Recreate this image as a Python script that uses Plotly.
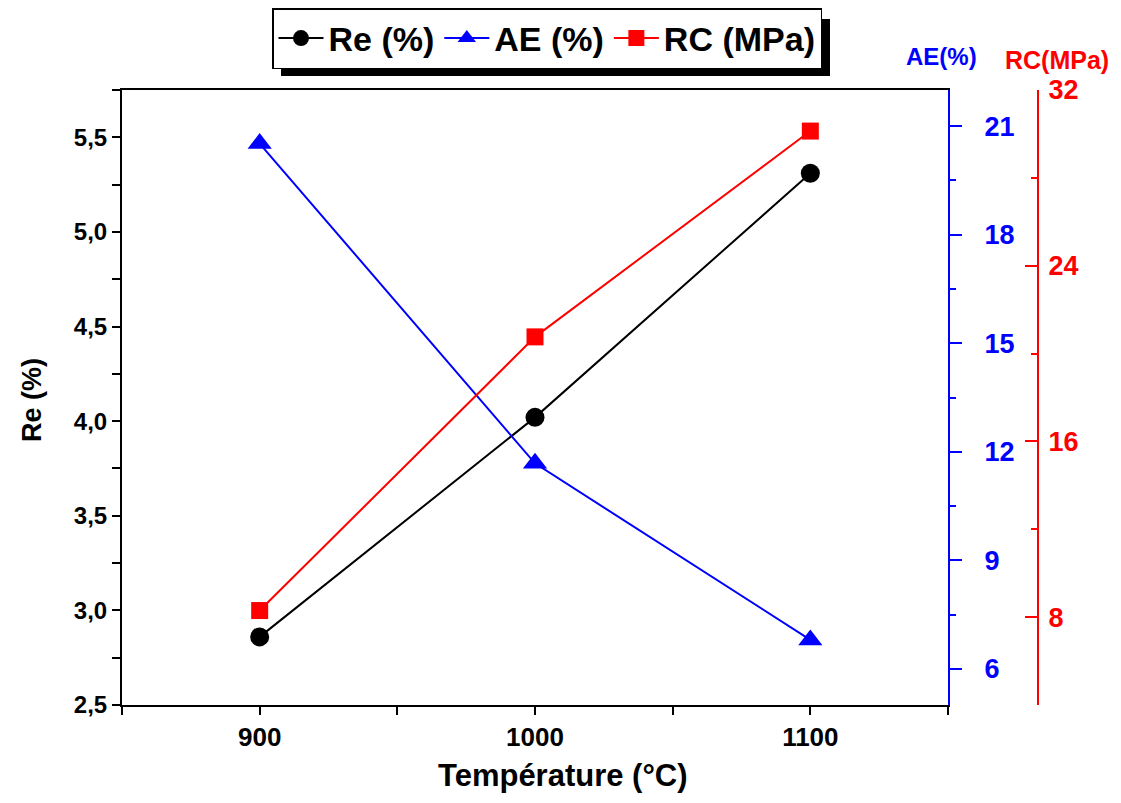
import plotly.graph_objects as go

temperature = [900, 1000, 1100]
re_pct = [2.86, 4.02, 5.31]
ae_pct = [20.52, 11.68, 6.8]
rc_mpa = [8.3, 20.76, 30.13]

x_ticks = [900, 1000, 1100]
re_ticks = [2.5, 3.0, 3.5, 4.0, 4.5, 5.0, 5.5]
ae_ticks = [6, 9, 12, 15, 18, 21]
rc_ticks = [8, 16, 24, 32]

OFF = 8  # page body margin
W, H = 1121 - OFF, 803 - OFF
L, R, T, B = 122, 1038, 90, 705  # page coordinates of plot area
pw, ph = R - L, B - T
def px(x): return (x - L) / pw
def py(y): return (B - y) / ph

bold = "Liberation Sans"

fig = go.Figure()
fig.add_trace(go.Scatter(x=temperature, y=re_pct, name="Re (%)", mode="lines+markers",
                         line=dict(color="black", width=2),
                         marker=dict(symbol="circle", size=19, color="black"),
                         yaxis="y"))
fig.add_trace(go.Scatter(x=temperature, y=ae_pct, name="AE (%)", mode="lines+markers",
                         line=dict(color="blue", width=2),
                         marker=dict(symbol="triangle-up", size=21, color="blue"),
                         yaxis="y2"))
fig.add_trace(go.Scatter(x=temperature, y=rc_mpa, name="RC (MPa)", mode="lines+markers",
                         line=dict(color="red", width=2),
                         marker=dict(symbol="square", size=17, color="red"),
                         yaxis="y3"))

fig.update_layout(
    width=W, height=H,
    margin=dict(l=L - OFF, r=W - (R - OFF), t=T - OFF, b=H - (B - OFF), autoexpand=False),
    plot_bgcolor="white", paper_bgcolor="white",
    separators=",.",
    showlegend=True,
    legend=dict(orientation="h", x=px(272), y=py(8), xanchor="left", yanchor="top",
                bgcolor="white", bordercolor="black", borderwidth=1.5,
                font=dict(family=bold, size=34, color="black", weight="bold"),
                itemwidth=45, tracegroupgap=0),
    xaxis=dict(domain=[0, px(948)], range=[850, 1150], tickvals=x_ticks, automargin=False,
               showline=True, linecolor="black", linewidth=2, mirror=True,
               ticks="outside", ticklen=8, tickwidth=2, tickcolor="black",
               minor=dict(dtick=50, tick0=850, ticks="outside", ticklen=8, tickwidth=2, tickcolor="black"),
               showgrid=False, zeroline=False,
               tickfont=dict(family=bold, size=26, color="black", weight="bold")),
    yaxis=dict(range=[2.5, 5.75], tickvals=re_ticks, tickformat=".1f", automargin=False,
               showline=True, linecolor="black", linewidth=2,
               ticks="outside", ticklen=8, tickwidth=2, tickcolor="black",
               minor=dict(dtick=0.25, tick0=2.5, ticks="outside", ticklen=8, tickwidth=2, tickcolor="black"),
               showgrid=False, zeroline=False,
               tickfont=dict(family=bold, size=24, color="black", weight="bold")),
    yaxis2=dict(range=[5, 22], tickvals=ae_ticks, overlaying="y", side="right", anchor="x", automargin=False,
                showline=True, linecolor="blue", linewidth=2,
                ticks="outside", ticklen=12, tickwidth=2, tickcolor="blue", ticklabelstandoff=17,
                minor=dict(dtick=1.5, tick0=6, ticks="outside", ticklen=6, tickwidth=2, tickcolor="blue"),
                showgrid=False, zeroline=False,
                tickfont=dict(family=bold, size=27, color="blue", weight="bold")),
    yaxis3=dict(range=[4, 32], tickvals=rc_ticks, overlaying="y", side="right", anchor="free", position=1,
                automargin=False,
                showline=True, linecolor="red", linewidth=2,
                ticks="inside", ticklen=12, tickwidth=2, tickcolor="red", ticklabelstandoff=4,
                minor=dict(dtick=4, tick0=4, ticks="inside", ticklen=6, tickwidth=2, tickcolor="red"),
                showgrid=False, zeroline=False,
                tickfont=dict(family=bold, size=27, color="red", weight="bold")),
    shapes=[dict(type="rect", xref="paper", yref="paper",
                 x0=px(281), x1=px(830), y0=py(76), y1=py(19),
                 fillcolor="black", line=dict(width=0), layer="below")],
    annotations=[
        dict(text="Re (%)", xref="paper", yref="paper", x=px(32), y=py(400), textangle=-90,
             xanchor="center", yanchor="middle",
             showarrow=False, font=dict(family=bold, size=27, color="black", weight="bold")),
        dict(text="Température (°C)", xref="paper", yref="paper", x=px(563), y=py(775),
             xanchor="center", yanchor="middle",
             showarrow=False, font=dict(family=bold, size=31, color="black", weight="bold")),
        dict(text="AE(%)", xref="paper", yref="paper", x=px(941), y=py(57),
             xanchor="center", yanchor="middle",
             showarrow=False, font=dict(family=bold, size=24, color="blue", weight="bold")),
        dict(text="RC(MPa)", xref="paper", yref="paper", x=px(1057), y=py(60),
             xanchor="center", yanchor="middle",
             showarrow=False, font=dict(family=bold, size=25, color="red", weight="bold")),
    ],
)

fig.write_html("out.html")
